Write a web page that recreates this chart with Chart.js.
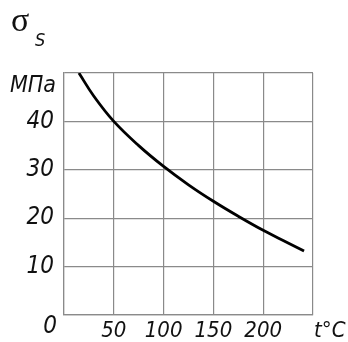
<!DOCTYPE html>
<html>
<head>
<meta charset="utf-8">
<script src="https://cdn.jsdelivr.net/npm/chart.js@4.4.1/dist/chart.umd.min.js"></script>
<style>
  html, body { margin: 0; padding: 0; background: #fff; }
  #wrap { width: 348px; height: 342px; }
</style>
</head>
<body>
<div id="wrap"><canvas id="sigmaChart" width="348" height="342"></canvas></div>
<script>
// temperature, °C
const tempC = [15, 30, 50, 75, 100, 125, 150, 175, 200, 225, 241];
// yield stress, MPa
const sigmaMPa = [50, 45.2, 40, 35.0, 30.7, 26.9, 23.5, 20.4, 17.5, 14.9, 13.2];

const xTicks = [0, 50, 100, 150, 200, 250];
const yTicks = [0, 10, 20, 30, 40, 50];

const FONT = '"DejaVu Sans Condensed", "Liberation Sans Narrow", sans-serif';
const GRID = '#8a8a8a';

/* ================= EXTRA LABELS ================= */

const axisLabels = {
  id: 'axisLabels',
  afterDraw(chart) {
    const { ctx, chartArea } = chart;
    ctx.save();
    ctx.fillStyle = '#111';

    // sigma_S
    ctx.textAlign = 'left';
    ctx.textBaseline = 'alphabetic';
    ctx.font = '34px "Liberation Serif", serif';
    ctx.fillText('σ', 11, 31);
    ctx.font = 'italic 18px ' + FONT;
    ctx.fillText('S', 35, 46);

    // unit
    ctx.font = 'italic 23px ' + FONT;
    ctx.textAlign = 'right';
    ctx.fillText('МПа', chartArea.left - 8, chartArea.top + 19);

    // origin
    ctx.font = 'italic 24px ' + FONT;
    ctx.textAlign = 'center';
    ctx.textBaseline = 'middle';
    ctx.fillText('0', chartArea.left - 14, chartArea.bottom + 12);

    // t °C
    ctx.font = 'italic 22px ' + FONT;
    ctx.textAlign = 'left';
    ctx.fillText('t°C', chartArea.right + 1, chartArea.bottom + 16);

    ctx.restore();
  }
};

/* ================= CHART ================= */

new Chart(document.getElementById('sigmaChart'), {
  type: 'line',
  data: {
    datasets: [{
      data: tempC.map((t, i) => ({ x: t, y: sigmaMPa[i] })),
      borderColor: '#000',
      borderWidth: 2.8,
      pointRadius: 0,
      fill: false,
      tension: 0.4
    }]
  },
  options: {
    responsive: false,
    animation: false,
    devicePixelRatio: 1,
    layout: { padding: { top: 73, right: 35, left: 0, bottom: 0 } },
    plugins: {
      legend: { display: false },
      tooltip: { enabled: false }
    },
    scales: {
      x: {
        type: 'linear',
        min: xTicks[0],
        max: xTicks[xTicks.length - 1],
        afterBuildTicks: s => { s.ticks = xTicks.map(v => ({ value: v })); },
        afterFit: s => { s.height = 27; },
        grid: { color: GRID, lineWidth: 1.2, drawTicks: false },
        border: { color: GRID, width: 1.2 },
        ticks: {
          padding: 5,
          color: '#111',
          font: { family: FONT, size: 22, style: 'italic', lineHeight: 1 },
          callback: v => (v === 0 || v === 250) ? '' : String(v)
        }
      },
      y: {
        min: yTicks[0],
        max: yTicks[yTicks.length - 1],
        afterBuildTicks: s => { s.ticks = yTicks.map(v => ({ value: v })); },
        afterFit: s => { s.width = 64; },
        grid: { color: GRID, lineWidth: 1.2, drawTicks: false },
        border: { color: GRID, width: 1.2 },
        ticks: {
          padding: 10,
          color: '#111',
          font: { family: FONT, size: 24, style: 'italic', lineHeight: 1 },
          callback: v => (v === 0 || v === 50) ? '' : String(v)
        }
      }
    }
  },
  plugins: [axisLabels]
});
</script>
</body>
</html>
